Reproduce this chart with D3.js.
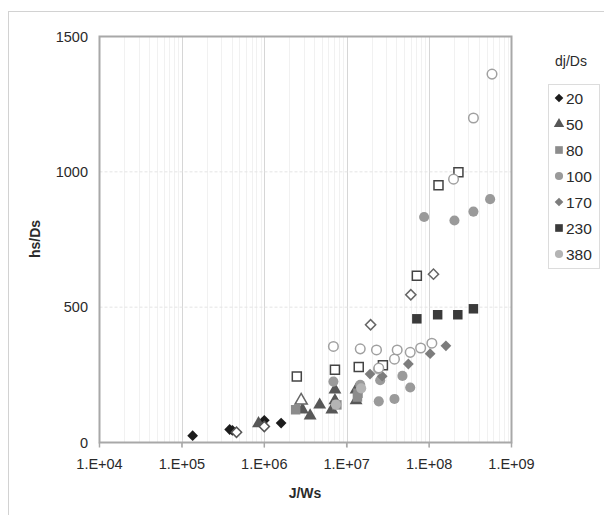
<!DOCTYPE html>
<html>
<head>
<meta charset="utf-8">
<script src="https://cdn.jsdelivr.net/npm/d3@7"></script>
<style>
  body { margin: 0; background: #fff; }
  text { font-family: "Liberation Sans", Arial, sans-serif; fill: #2a2a2a; }
</style>
</head>
<body>
<script>
// ---------------------------------------------------------------
// data: [J/Ws, hs/Ds]
// ---------------------------------------------------------------
var xTicks = [1e4, 1e5, 1e6, 1e7, 1e8, 1e9];
var xTickLabels = ["1.E+04", "1.E+05", "1.E+06", "1.E+07", "1.E+08", "1.E+09"];
var yTicks = [0, 500, 1000, 1500];
var legendNames = ["20", "50", "80", "100", "170", "230", "380"];

var s20  = [[1.35e5, 25], [3.8e5, 48], [4.1e5, 45], [1.0e6, 82], [1.6e6, 72]];
var s50  = [[8.5e5, 70], [2.9e6, 121], [3.6e6, 99], [4.7e6, 139], [6.6e6, 121],
            [7.2e6, 195], [7.2e6, 155], [1.3e7, 155], [1.3e7, 195]];
var s80  = [[2.4e6, 121], [7.6e6, 139], [1.37e7, 182], [1.35e7, 168]];
var s100 = [[6.9e6, 225], [1.46e7, 213], [2.45e7, 152], [2.55e7, 230], [3.8e7, 161],
            [4.75e7, 246], [5.9e7, 203], [8.7e7, 833], [2.03e8, 820], [3.45e8, 853], [5.5e8, 899]];
var s170 = [[1.92e7, 253], [2.7e7, 245], [5.6e7, 290], [1.03e8, 328], [1.6e8, 357]];
var s230 = [[7.1e7, 457], [1.27e8, 472], [2.23e8, 472], [3.45e8, 494]];
var s380 = [[7.4e6, 140], [1.5e7, 200], [2.4e7, 270]];

// open markers (not in legend)
var o20  = [[4.6e5, 38], [1.0e6, 59]];
var o50  = [[2.8e6, 155]];
var o80  = [[2.48e6, 244], [7.2e6, 269], [1.4e7, 279], [2.75e7, 285], [7.1e7, 616], [1.3e8, 950], [2.27e8, 998]];
var o170 = [[1.95e7, 435], [6.0e7, 546], [1.13e8, 622]];
var o380 = [[6.9e6, 355], [1.46e7, 346], [2.3e7, 342], [2.45e7, 275], [3.8e7, 308], [4.1e7, 342],
            [5.9e7, 333], [7.9e7, 349], [1.08e8, 367], [1.98e8, 973], [3.45e8, 1199], [5.8e8, 1361]];

// ---------------------------------------------------------------
var W = 604, H = 515;
var svg = d3.select("body").append("svg").attr("width", W).attr("height", H);

// outer frame
svg.append("rect").attr("x", 8.5).attr("y", 11.5).attr("width", 620).attr("height", 520)
  .attr("fill", "none").attr("stroke", "#d2d2d2");

var x = d3.scaleLog().domain([1e4, 1e9]).range([99.5, 511.5]);
var y = d3.scaleLinear().domain([0, 1500]).range([442.5, 36.5]);

// minor vertical grid
var minor = [];
for (var e = 4; e < 9; e++)
  for (var k = 2; k < 10; k++) minor.push(k * Math.pow(10, e));

svg.append("g").selectAll("line").data(minor).enter().append("line")
  .attr("x1", function(d) { return Math.round(x(d)) + 0.5; })
  .attr("x2", function(d) { return Math.round(x(d)) + 0.5; })
  .attr("y1", y(1500)).attr("y2", y(0))
  .attr("stroke", "#f1f1f1");

svg.append("g").selectAll("line").data(xTicks.slice(1, -1)).enter().append("line")
  .attr("x1", function(d) { return Math.round(x(d)) + 0.5; })
  .attr("x2", function(d) { return Math.round(x(d)) + 0.5; })
  .attr("y1", y(1500)).attr("y2", y(0) + 5)
  .attr("stroke", "#d6d6d6");

svg.append("g").selectAll("line").data([500, 1000]).enter().append("line")
  .attr("x1", x(1e4)).attr("x2", x(1e9))
  .attr("y1", function(d) { return y(d); })
  .attr("y2", function(d) { return y(d); })
  .attr("stroke", "#e4e4e4").attr("stroke-dasharray", "3,2");

// plot frame
svg.append("rect").attr("x", x(1e4)).attr("y", y(1500))
  .attr("width", x(1e9) - x(1e4)).attr("height", y(0) - y(1500))
  .attr("fill", "none").attr("stroke", "#a8a8a8").attr("stroke-width", 2);

// ticks below x axis
svg.append("g").selectAll("line").data(xTicks).enter().append("line")
  .attr("x1", function(d) { return x(d); }).attr("x2", function(d) { return x(d); })
  .attr("y1", y(0)).attr("y2", y(0) + 5)
  .attr("stroke", "#a8a8a8").attr("stroke-width", 1.5);

// tick labels
svg.append("g").selectAll("text").data(xTicks).enter().append("text")
  .attr("x", function(d) { return x(d); }).attr("y", 469)
  .attr("text-anchor", "middle").style("font-size", "14.5px")
  .text(function(d, i) { return xTickLabels[i]; });

svg.append("g").selectAll("text").data(yTicks).enter().append("text")
  .attr("x", 88).attr("y", function(d) { return y(d) + 5; })
  .attr("text-anchor", "end").style("font-size", "14.5px")
  .text(function(d) { return d; });

// axis titles
svg.append("text").attr("x", 305).attr("y", 498).attr("text-anchor", "middle")
  .style("font-size", "14px").style("font-weight", "bold").text("J/Ws");
svg.append("text").attr("transform", "translate(40,239) rotate(-90)").attr("text-anchor", "middle")
  .style("font-size", "14px").style("font-weight", "bold").text("hs/Ds");

// ---------------------------------------------------------------
// markers
var series = [
  { data: s20,  shape: "diamond",  fill: "#1c1c1c" },
  { data: s50,  shape: "triangle", fill: "#575757" },
  { data: s80,  shape: "square",   fill: "#8c8c8c" },
  { data: s100, shape: "circle",   fill: "#9a9a9a" },
  { data: s170, shape: "diamond",  fill: "#7c7c7c" },
  { data: s230, shape: "square",   fill: "#3a3a3a" },
  { data: s380, shape: "circle",   fill: "#b4b4b4" }
];
var openSeries = [
  { data: o20,  shape: "diamond",  stroke: "#555" },
  { data: o50,  shape: "triangle", stroke: "#666" },
  { data: o80,  shape: "square",   stroke: "#444" },
  { data: o170, shape: "diamond",  stroke: "#666" },
  { data: o380, shape: "circle",   stroke: "#a0a0a0" }
];

function symbolPath(shape, scale) {
  scale = scale || 1;
  if (shape == "diamond") return d3.symbol().type(d3.symbolSquare).size(58 * scale)();
  if (shape == "triangle") return d3.symbol().type(d3.symbolTriangle).size(72 * scale)();
  if (shape == "square") return d3.symbol().type(d3.symbolSquare).size(90 * scale)();
  return d3.symbol().type(d3.symbolCircle).size(80 * scale)();
}
function rot(shape) { return shape == "diamond" ? " rotate(45)" : ""; }

var marks = svg.append("g");
series.forEach(function(s) {
  marks.append("g").selectAll("path").data(s.data).enter().append("path")
    .attr("d", symbolPath(s.shape))
    .attr("transform", function(d) { return "translate(" + x(d[0]) + "," + y(d[1]) + ")" + rot(s.shape); })
    .attr("fill", s.fill);
});
openSeries.forEach(function(s) {
  marks.append("g").selectAll("path").data(s.data).enter().append("path")
    .attr("d", symbolPath(s.shape, 0.9))
    .attr("transform", function(d) { return "translate(" + x(d[0]) + "," + y(d[1]) + ")" + rot(s.shape); })
    .attr("fill", "#fff").attr("stroke", s.stroke).attr("stroke-width", 1.5);
});

// ---------------------------------------------------------------
// legend
svg.append("text").attr("x", 571).attr("y", 66).attr("text-anchor", "middle")
  .style("font-size", "14px").text("dj/Ds");
svg.append("rect").attr("x", 548.5).attr("y", 84.5).attr("width", 51).attr("height", 184)
  .attr("fill", "#fff").attr("stroke", "#dcdcdc");

var leg = svg.append("g").selectAll("g").data(series).enter().append("g")
  .attr("transform", function(d, i) { return "translate(559," + (98 + i * 26) + ")"; });
leg.append("path")
  .attr("d", function(d) { return symbolPath(d.shape, 0.65); })
  .attr("transform", function(d) { return rot(d.shape).trim(); })
  .attr("fill", function(d) { return d.fill; });
leg.append("text").attr("x", 7).attr("y", 5.5).style("font-size", "15.5px")
  .text(function(d, i) { return legendNames[i]; });
</script>
</body>
</html>
